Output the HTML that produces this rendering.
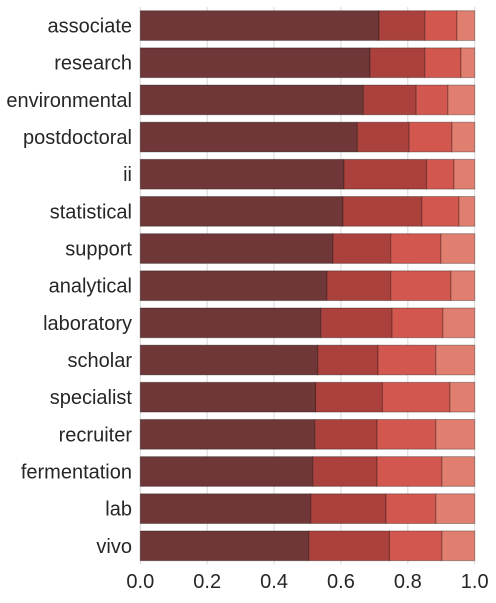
<!DOCTYPE html>
<html><head><meta charset="utf-8"><style>
body{margin:0;background:#fff;font-family:"Liberation Sans",sans-serif}
</style></head><body>
<svg id="chart" width="496" height="598" xmlns="http://www.w3.org/2000/svg"></svg>
<script>
const categories=["associate","research","environmental","postdoctoral","ii","statistical","support","analytical","laboratory","scholar","specialist","recruiter","fermentation","lab","vivo"];
const series1=[0.714,0.687,0.667,0.649,0.609,0.606,0.576,0.558,0.540,0.531,0.524,0.522,0.516,0.510,0.504];
const series2=[0.137,0.164,0.158,0.155,0.247,0.236,0.173,0.191,0.213,0.180,0.200,0.186,0.192,0.225,0.241];
const series3=[0.096,0.108,0.095,0.128,0.082,0.111,0.150,0.180,0.152,0.173,0.202,0.176,0.194,0.149,0.157];
const series4=[0.053,0.041,0.080,0.068,0.062,0.047,0.101,0.071,0.095,0.116,0.074,0.116,0.098,0.116,0.098];
const xTicks=[0,0.2,0.4,0.6,0.8,1.0];
const xTickLabels=["0.0","0.2","0.4","0.6","0.8","1.0"];
const colors=["#6f3737","#ab413c","#d1574f","#e07f70"];
const svg=document.getElementById('chart');
const NS="http://www.w3.org/2000/svg";
const x0=140.3,x1=474.7,yTop=7,yBot=564.4;
const xs=v=>x0+v*(x1-x0);
const pitch=(yBot-yTop)/categories.length;
const yc=i=>yTop+pitch*(i+0.5);
function mk(t,a){const e=document.createElementNS(NS,t);for(const k in a)e.setAttribute(k,a[k]);svg.appendChild(e);return e;}
xTicks.forEach((t,i)=>{
  const g=mk('line',{x1:xs(t),x2:xs(t),y1:yTop,y2:yBot,stroke:'#d8d8d8','stroke-width':1});
  
  
  const l=mk('text',{x:xs(t),y:588,'text-anchor':'middle','font-size':20,fill:'#262626'});
  l.textContent=xTickLabels[i];
  
  
});
const all=[series1,series2,series3,series4];
categories.forEach((c,i)=>{
  let acc=0;const h=pitch*0.8;
  all.forEach((s,k)=>{
    const r=mk('rect',{x:xs(acc),y:yc(i)-h/2,width:xs(acc+s[i])-xs(acc),height:h,fill:colors[k],stroke:'rgba(0,0,0,0.3)','stroke-width':1});
    
    
    acc+=s[i];
  });
  const t=mk('text',{x:132,y:yc(i)+7,'text-anchor':'end','font-size':20,fill:'#262626'});
  t.textContent=c;
  
  
});
</script>
</body></html>
